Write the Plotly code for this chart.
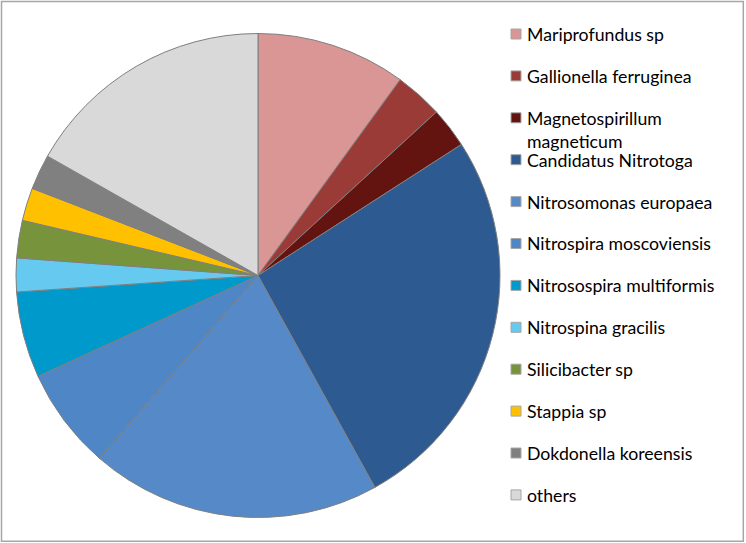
import plotly.graph_objects as go

labels = ["Mariprofundus sp", "Gallionella ferruginea", "Magnetospirillum magneticum",
          "Candidatus Nitrotoga", "Nitrosomonas europaea", "Nitrospira moscoviensis",
          "Nitrosospira multiformis", "Nitrospina gracilis", "Silicibacter sp",
          "Stappia sp", "Dokdonella koreensis", "others"]
legend_text = ["Mariprofundus sp", "Gallionella ferruginea", "Magnetospirillum<br>magneticum",
               "Candidatus Nitrotoga", "Nitrosomonas europaea", "Nitrospira moscoviensis",
               "Nitrosospira multiformis", "Nitrospina gracilis", "Silicibacter sp",
               "Stappia sp", "Dokdonella koreensis", "others"]
values = [10.0, 3.2, 2.7, 26.1, 19.4, 6.8, 5.75, 2.25, 2.5, 2.2, 2.35, 16.8]
colors = ["#D99694", "#9B3B38", "#631410", "#2C5A91", "#5689C7", "#4F86C6",
          "#0099CC", "#66C9F0", "#77933C", "#FFC000", "#808080", "#D9D9D9"]

W, H = 746, 543
fig = go.Figure(go.Pie(
    labels=labels, values=values, sort=False, direction="clockwise", rotation=0,
    marker=dict(colors=colors, line=dict(color="#7F7F7F", width=1)),
    textinfo="none", hoverinfo="label+percent", showlegend=False,
    domain=dict(x=[16 / W, 500 / W], y=[(H - 518) / H, (H - 33) / H]),
))

shapes = [dict(type="rect", xref="paper", yref="paper", x0=1.5 / W, x1=743.3 / W,
               y0=1 - 541.3 / H, y1=1 - 1.5 / H, line=dict(color="#A6A6A6", width=1.5))]
annotations = []
y0, step = 34, 41.9
for i, (t, c) in enumerate(zip(legend_text, colors)):
    yc = y0 + i * step
    shapes.append(dict(type="rect", xref="paper", yref="paper",
                       x0=511 / W, x1=521 / W, y0=1 - (yc + 5) / H, y1=1 - (yc - 5) / H,
                       fillcolor=c, line=dict(color="#A6A6A6", width=1)))
    annotations.append(dict(xref="paper", yref="paper", x=525 / W, y=1 - (yc - 12) / H,
                            xanchor="left", yanchor="top", align="left", showarrow=False,
                            text=t, font=dict(family="Lato", size=17.7, color="#000000")))

fig.update_layout(width=W, height=H, margin=dict(l=0, r=0, t=0, b=0),
                  paper_bgcolor="white", plot_bgcolor="white",
                  shapes=shapes, annotations=annotations)
fig.write_html("out.html", config={"displayModeBar": False},
               post_script="document.body.style.margin='0px';document.body.style.padding='0px';")
